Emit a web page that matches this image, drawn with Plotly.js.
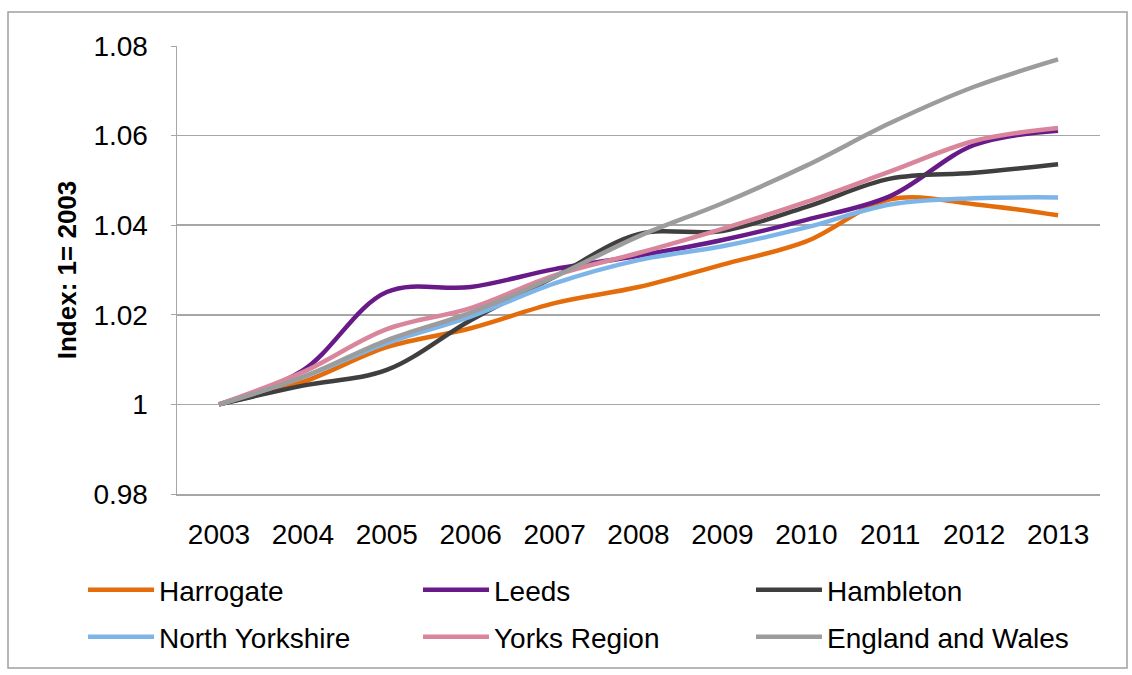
<!DOCTYPE html>
<html>
<head>
<meta charset="utf-8">
<script src="https://cdn.plot.ly/plotly-3.0.1.min.js"></script>
<style>html,body{margin:0;padding:0;background:#fff;}#chart{width:1132px;height:675px;}</style>
</head>
<body>
<div id="chart"></div>
<script>
const years = ["2003","2004","2005","2006","2007","2008","2009","2010","2011","2012","2013"];
const harrogate = [1, 1.0050, 1.0128, 1.0170, 1.0226, 1.0262, 1.0312, 1.0364, 1.0458, 1.0447, 1.0422];
const leeds = [1, 1.0076, 1.0251, 1.0262, 1.0302, 1.0332, 1.0367, 1.0412, 1.0465, 1.0579, 1.0611];
const hambleton = [1, 1.0042, 1.0077, 1.0188, 1.0285, 1.0380, 1.0387, 1.0441, 1.0504, 1.0517, 1.0536];
const northYorkshire = [1, 1.0061, 1.0137, 1.0196, 1.0270, 1.0322, 1.0353, 1.0395, 1.0446, 1.0460, 1.0462];
const yorksRegion = [1, 1.0072, 1.0168, 1.0215, 1.0288, 1.0338, 1.0392, 1.0452, 1.0520, 1.0588, 1.0617];
const englandWales = [1, 1.0061, 1.0143, 1.0205, 1.0285, 1.0375, 1.0449, 1.0533, 1.0628, 1.0709, 1.0770];
const yTickVals = [0.98, 1, 1.02, 1.04, 1.06, 1.08];
const yTickText = ["0.98", "1", "1.02", "1.04", "1.06", "1.08"];

const FONT = '"Liberation Sans", Arial, sans-serif';
const series = [
  {name: "Harrogate", y: harrogate, color: "#E46C0A"},
  {name: "Leeds", y: leeds, color: "#671A88"},
  {name: "Hambleton", y: hambleton, color: "#3F3F3F"},
  {name: "North Yorkshire", y: northYorkshire, color: "#7DB5E8"},
  {name: "Yorks Region", y: yorksRegion, color: "#D9869C"},
  {name: "England and Wales", y: englandWales, color: "#9C9C9C"}
];

const L = 177, R = 1100, T = 46, B = 494;
const pw = R - L, ph = B - T;
const px = v => (v - L) / pw, py = v => (B - v) / ph;

// legend slots (pixel positions of sample line start and row centre)
const colStarts = [88, 423, 756];
const rowCentres = [590, 637];
const legendKeys = ["legend", "legend2", "legend3", "legend4", "legend5", "legend6"];

const traces = series.map((s, i) => ({
  type: "scatter", mode: "lines", name: s.name, x: years, y: s.y,
  legend: legendKeys[i],
  line: {color: s.color, width: 4.5, shape: "spline", smoothing: 1}
}));

const layout = {
  width: 1132, height: 675,
  margin: {l: L, r: 1132 - R, t: T, b: 675 - B, autoexpand: false},
  paper_bgcolor: "#fff", plot_bgcolor: "#fff",
  font: {family: FONT, color: "#000", size: 28},
  showlegend: true,
  xaxis: {
    type: "category", range: [-0.5, 10.5], showgrid: false,
    showline: true, linecolor: "#A6A6A6", linewidth: 1.5, ticks: "", zeroline: false,
    tickfont: {family: FONT, size: 28, color: "#000"},
    ticklabelstandoff: 15, fixedrange: true
  },
  yaxis: {
    range: [0.98, 1.08], tickvals: yTickVals, ticktext: yTickText,
    showgrid: true, gridcolor: "#A6A6A6", gridwidth: 1.5,
    showline: true, linecolor: "#A6A6A6", linewidth: 1.5,
    ticks: "outside", ticklen: 5, tickcolor: "#A6A6A6", zeroline: false,
    tickfont: {family: FONT, size: 28, color: "#000"},
    ticklabelstandoff: 17,
    title: {text: "<b>Index: 1= 2003</b>", font: {family: FONT, size: 26, color: "#000"}, standoff: 9},
    fixedrange: true
  },
  shapes: [
    {type: "rect", xref: "paper", yref: "paper", x0: px(8), x1: px(1127), y0: py(668), y1: py(12),
     line: {color: "#A0A0A0", width: 1.5}, fillcolor: "rgba(0,0,0,0)", layer: "below"}
  ]
};
legendKeys.forEach((k, i) => {
  const col = i % 3, row = Math.floor(i / 3);
  layout[k] = {
    orientation: "h", x: px(colStarts[col] - 5), y: py(rowCentres[row]),
    xanchor: "left", yanchor: "middle",
    font: {family: FONT, size: 28, color: "#000"},
    itemwidth: 66, bgcolor: "rgba(0,0,0,0)", borderwidth: 0
  };
});
Plotly.newPlot("chart", traces, layout, {displayModeBar: false, staticPlot: true});
</script>
</body>
</html>
